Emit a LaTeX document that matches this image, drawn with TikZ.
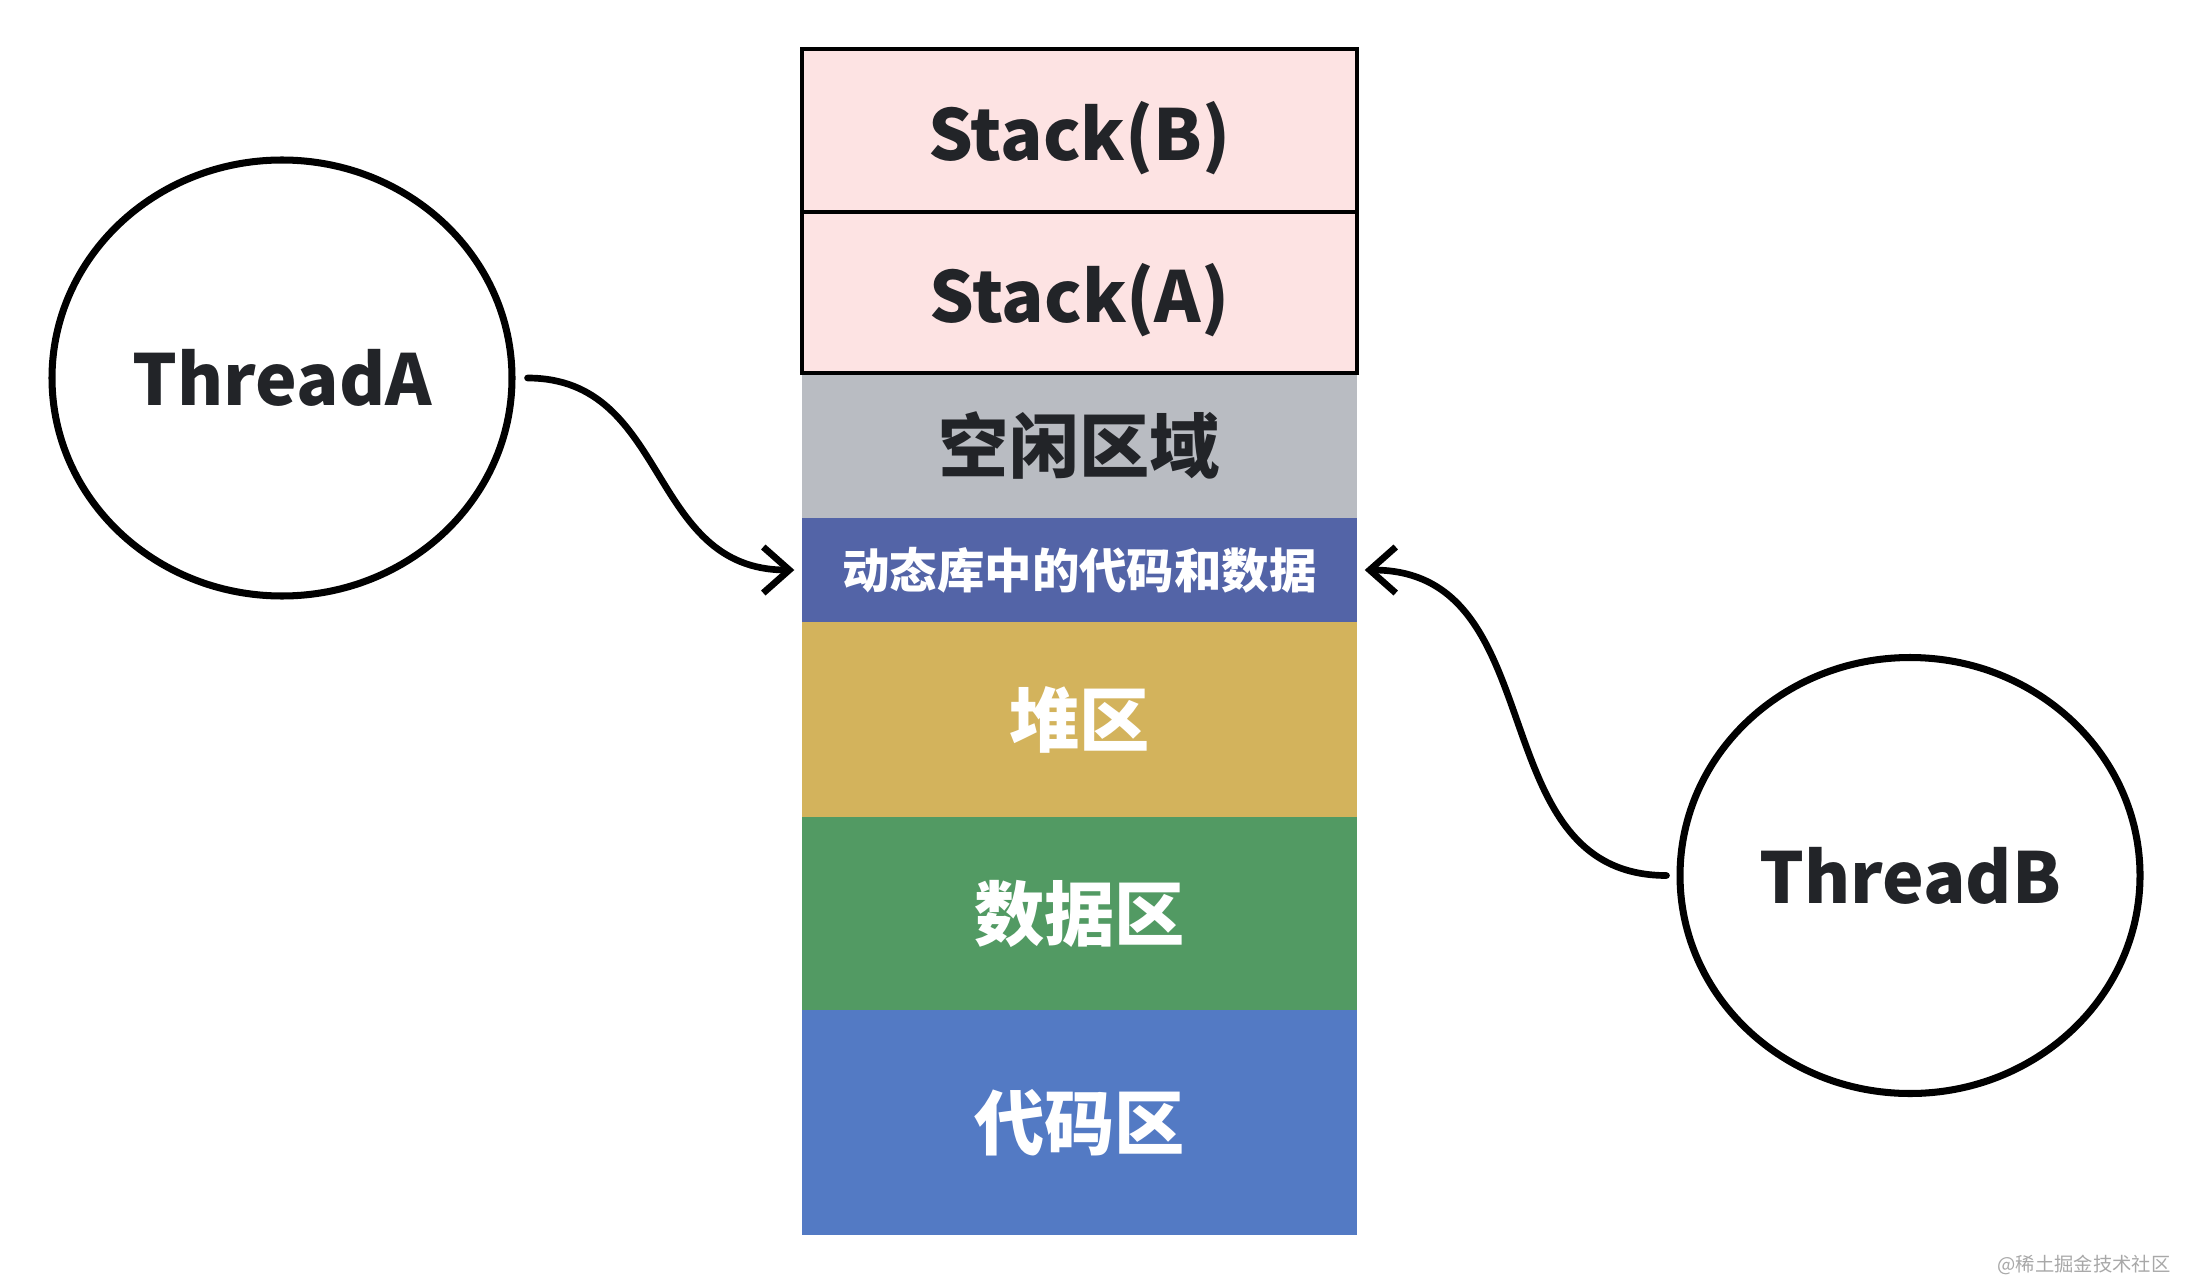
\documentclass[tikz,border=0pt]{standalone}
\usepackage{fontspec}
\setmainfont{Noto Sans CJK SC}
\usepackage{tikz}
\usetikzlibrary{arrows.meta,positioning,shapes.geometric}
\definecolor{stackpink}{HTML}{FDE3E3}
\definecolor{freegray}{HTML}{B9BCC2}
\definecolor{dynblue}{HTML}{5364A7}
\definecolor{heapyellow}{HTML}{D3B35C}
\definecolor{datagreen}{HTML}{529A63}
\definecolor{codeblue}{HTML}{537AC4}
\definecolor{txtdark}{HTML}{222428}
\definecolor{wmgray}{HTML}{A8A8A8}
\tikzset{>={Straight Barb[length=2.6mm,width=4.6mm]}}

\begin{document}
\begin{tikzpicture}[
		blk/.style={inner sep=0pt, minimum width=5.55cm, text=white, font=\bfseries\fontsize{20}{24}\selectfont},
		stk/.style={blk, draw=black, line width=1.3pt, fill=stackpink, text=txtdark, text depth=0pt},
		thrd/.style={ellipse, draw=black, line width=2pt, minimum width=4.6cm, minimum height=4.36cm, inner sep=0pt, text=txtdark, font=\bfseries\fontsize{20}{24}\selectfont},
		link/.style={->, line width=1.9pt, line cap=round, line join=round}
	]
					\useasboundingbox (0,0) rectangle (21.92,-12.82);
					%Memory
					\node[blk, fill=freegray, text=txtdark, minimum height=1.45cm] (free) at (10.795,-4.455) {空闲区域};
					\node[blk, fill=dynblue, minimum height=1.04cm, font=\bfseries\fontsize{13.5}{16}\selectfont] (dyn) at (10.795,-5.70) {动态库中的代码和数据};
					\node[blk, fill=heapyellow, minimum height=1.95cm] (heap) at (10.795,-7.195) {堆区};
					\node[blk, fill=datagreen, minimum height=1.93cm] (data) at (10.795,-9.135) {数据区};
					\node[blk, fill=codeblue, minimum height=2.25cm] (code) at (10.795,-11.225) {代码区};
					\node[stk, minimum height=1.63cm] (stB) at (10.795,-1.305) {Stack(B)};
					\node[stk, minimum height=1.61cm] (stA) at (10.795,-2.925) {Stack(A)};
					
					%Threads
					\node[thrd] (thA) at (2.82,-3.78) {ThreadA};
					\node[thrd] (thB) at (19.10,-8.755) {ThreadB};
					\draw[link, shorten <=1.2mm, shorten >=0.7mm] (thA) to[out=0,in=180,looseness=1.15] (dyn.west);
					\draw[link, shorten <=1mm, shorten >=0.7mm] (thB) to[out=180,in=0,looseness=1.15] (dyn.east);
					
					\node[anchor=east, text=wmgray, font=\fontsize{5.5}{6}\selectfont] (wm) at (21.83,-12.65) {@稀土掘金技术社区};
				\end{tikzpicture}
\end{document}
